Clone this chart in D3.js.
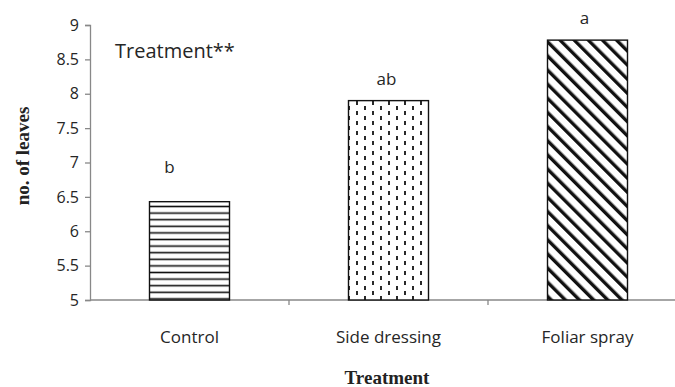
<!DOCTYPE html>
<html>
<head>
<meta charset="utf-8">
<script src="https://cdn.jsdelivr.net/npm/d3@7"></script>
<style>
  body { margin: 0; background: #fff; }
  .tick-label { font-family: "Open Sans", sans-serif; font-size: 16px; fill: #262626; }
  .cat-label { font-family: "Open Sans", sans-serif; font-size: 17px; fill: #262626; }
  .letter { font-family: "Open Sans", sans-serif; font-size: 17px; fill: #262626; }
  .axis-title { font-family: "Liberation Serif", "DejaVu Serif", serif; font-weight: bold; font-size: 19px; fill: #222; }
</style>
</head>
<body>
<div id="chart"></div>
<script>
// data
var categories = ["Control", "Side dressing", "Foliar spray"];
var leaves = [6.43, 7.9, 8.78];
var letters = ["b", "ab", "a"];
var yTicks = [5, 5.5, 6, 6.5, 7, 7.5, 8, 8.5, 9];

var svgWidth = 675, svgHeight = 387;
var margin = { top: 25, right: -12, bottom: 87, left: 90 };
var height = svgHeight - margin.top - margin.bottom;
var width = svgWidth - margin.left - margin.right;

var svg = d3.select("#chart")
  .append("svg")
    .attr("width", svgWidth)
    .attr("height", svgHeight);

// fill patterns for the three bars
var defs = svg.append("defs");

var pHoriz = defs.append("pattern")
  .attr("id", "p-horiz")
  .attr("patternUnits", "userSpaceOnUse")
  .attr("width", 8).attr("height", 6.6);
pHoriz.append("rect").attr("width", 8).attr("height", 6.6).attr("fill", "#fff");
pHoriz.append("line")
  .attr("x1", 0).attr("x2", 8).attr("y1", 3.3).attr("y2", 3.3)
  .attr("stroke", "#111").attr("stroke-width", 1.6);

var pDash = defs.append("pattern")
  .attr("id", "p-dash")
  .attr("patternUnits", "userSpaceOnUse")
  .attr("width", 16).attr("height", 10);
pDash.append("rect").attr("width", 16).attr("height", 10).attr("fill", "#fff");
[[3, 1], [11, 6], [11, -4]].forEach(function(p) {
  pDash.append("line")
    .attr("x1", p[0]).attr("x2", p[0]).attr("y1", p[1]).attr("y2", p[1] + 4)
    .attr("stroke", "#111").attr("stroke-width", 1.8);
});

var pDiag = defs.append("pattern")
  .attr("id", "p-diag")
  .attr("patternUnits", "userSpaceOnUse")
  .attr("width", 10).attr("height", 10)
  .attr("patternTransform", "rotate(-45)");
pDiag.append("rect").attr("width", 10).attr("height", 10).attr("fill", "#fff");
pDiag.append("rect").attr("x", 0).attr("y", 0).attr("width", 3.4).attr("height", 10).attr("fill", "#111");

var fills = ["url(#p-horiz)", "url(#p-dash)", "url(#p-diag)"];

var g = svg.append("g")
  .attr("transform", "translate(" + margin.left + "," + margin.top + ")");

var x = d3.scaleBand()
  .domain(categories)
  .range([0, width])
  .padding(0);

var y = d3.scaleLinear()
  .domain([5, 9])
  .range([height, 0]);

// Y AXIS
var yAxis = g.append("g")
  .call(d3.axisLeft(y).tickValues(yTicks).tickSize(5).tickPadding(6)
    .tickFormat(function(d) { return String(d); }));
yAxis.select(".domain").attr("stroke", "#888").attr("stroke-width", 1.3);
yAxis.selectAll(".tick line").attr("stroke", "#888").attr("stroke-width", 1.3);
yAxis.attr("font-size", null).attr("font-family", null);
yAxis.selectAll(".tick text").attr("class", "tick-label").attr("fill", null);

// X AXIS: ticks sit between the categories
var xg = g.append("g").attr("transform", "translate(0," + height + ")");
xg.append("line")
  .attr("x1", 0).attr("x2", width)
  .attr("stroke", "#888").attr("stroke-width", 1.5);
xg.selectAll(".xtick")
  .data(categories.slice(1))
  .enter().append("line")
    .attr("x1", function(d) { return x(d); })
    .attr("x2", function(d) { return x(d); })
    .attr("y1", 0).attr("y2", 5)
    .attr("stroke", "#888").attr("stroke-width", 1.3);
xg.selectAll(".xlabel")
  .data(categories)
  .enter().append("text")
    .attr("class", "cat-label")
    .attr("x", function(d) { return x(d) + x.bandwidth() / 2; })
    .attr("y", 43)
    .attr("text-anchor", "middle")
    .text(function(d) { return d; });

// BARS
var barW = 80;
g.selectAll(".bar")
  .data(leaves)
  .enter().append("rect")
    .attr("x", function(d, i) { return x(categories[i]) + x.bandwidth() / 2 - barW / 2; })
    .attr("y", function(d) { return y(d); })
    .attr("width", barW)
    .attr("height", function(d) { return height - y(d); })
    .attr("fill", function(d, i) { return fills[i]; })
    .attr("stroke", "#111")
    .attr("stroke-width", 1.4);

// SIGNIFICANCE LETTERS
var letterDx = [-20, -2, -3];
var letterDy = [-29, -16, -16];
g.selectAll(".letter")
  .data(letters)
  .enter().append("text")
    .attr("class", "letter")
    .attr("x", function(d, i) { return x(categories[i]) + x.bandwidth() / 2 + letterDx[i]; })
    .attr("y", function(d, i) { return y(leaves[i]) + letterDy[i]; })
    .attr("text-anchor", "middle")
    .text(function(d) { return d; });

// NOTE IN THE CORNER
g.append("text")
  .attr("x", 25)
  .attr("y", 33)
  .attr("font-family", "'Open Sans', sans-serif")
  .attr("font-size", "20px")
  .attr("fill", "#262626")
  .text("Treatment**");

// AXIS TITLES
svg.append("text")
  .attr("class", "axis-title")
  .attr("transform", "translate(29," + 156 + ") rotate(-90)")
  .attr("text-anchor", "middle")
  .text("no. of leaves");

svg.append("text")
  .attr("class", "axis-title")
  .attr("x", 387)
  .attr("y", 384)
  .attr("text-anchor", "middle")
  .text("Treatment");
</script>
</body>
</html>
